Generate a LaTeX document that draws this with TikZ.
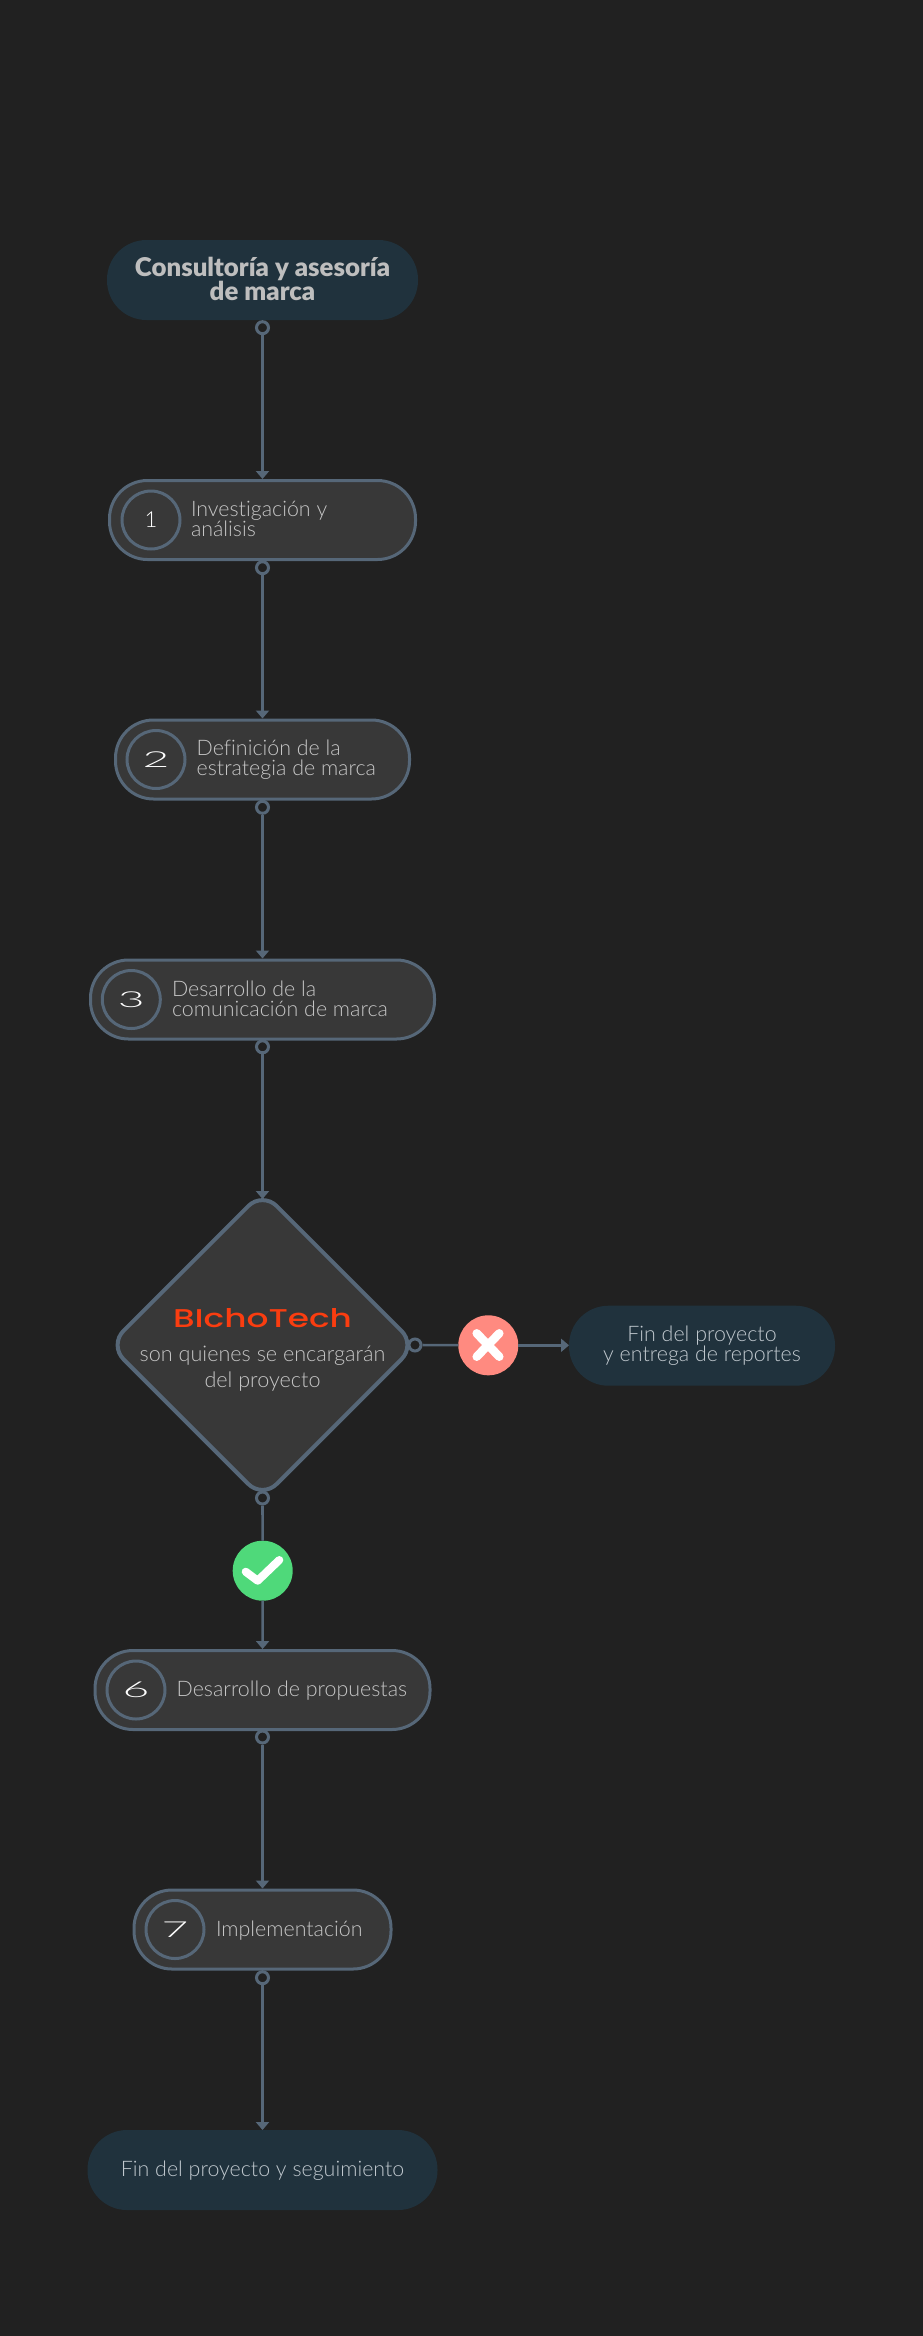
\documentclass[tikz,border=0pt]{standalone}
\usepackage{fontspec}
\usepackage{graphicx}
\usetikzlibrary{arrows.meta,shapes.geometric}
\setmainfont{Lato}
\newfontfamily\lightf[Ligatures=NoCommon]{Lato Light}
\newfontfamily\boldf[Ligatures=NoCommon]{Lato Black}
\newfontfamily\logof{Poppins Medium}
\definecolor{bgc}{HTML}{212121}
\definecolor{endc}{HTML}{20323D}
\definecolor{stepc}{HTML}{383838}
\definecolor{linec}{HTML}{566778}
\definecolor{textc}{HTML}{C6C6C6}
\definecolor{titlec}{HTML}{BEBEBE}
\definecolor{endtext}{HTML}{C0C8CE}
\definecolor{redc}{HTML}{FF8A80}
\definecolor{greenc}{HTML}{4FD97A}
\definecolor{logoc}{HTML}{FA3D10}
\tikzset{
  x=1pt,y=-1pt,
  startbox/.style={rectangle,rounded corners=39.5pt,fill=endc,inner sep=0pt,outer sep=0pt,minimum height=80pt},
  stepbox/.style={rectangle,rounded corners=38pt,fill=stepc,draw=linec,line width=3pt,minimum height=79pt,inner sep=0pt},
  numcirc/.style={circle,draw=linec,line width=3pt,minimum size=58pt,inner sep=0pt,text=white,font=\lightf\fontsize{22}{22}\selectfont},
  steptext/.style={text=textc,inner sep=0pt,outer sep=0pt,align=left,anchor=west,font=\lightf\fontsize{21.4}{20}\selectfont},
  dotn/.style={circle,draw=linec,fill=bgc,line width=3pt,minimum size=12pt,inner sep=0pt},
  conn/.style={draw=linec,line width=2.6pt},
  linkarrow/.style={conn,-{Triangle[length=8pt,width=13pt]}},
  badge/.style={circle,minimum size=60pt,inner sep=0pt,outer sep=0pt},
  tickmark/.style={draw=white,line cap=round,line width=8pt}
}
\newcommand{\wide}[1]{\scalebox{2.1}[1]{#1}}
\begin{document}
\begin{tikzpicture}
\useasboundingbox (0,0) rectangle (922,2336);
\fill[bgc] (-10,-10) rectangle (932,2346);

\node[startbox,minimum width=311pt] (start) at (262.5,280) {};
\node[text=titlec,inner sep=0pt,align=center,font=\boldf\fontsize{25.8}{23}\selectfont] (starttxt) at (262.5,279) {Consultoría y asesoría\\de marca};

\node[stepbox,minimum width=306pt] (s1) at (262.5,520) {};
\node[numcirc] (n1) at (151,520) {1};
\node[steptext] (t1) at (191,519) {Investigación y\\análisis};

\node[stepbox,minimum width=294pt] (s2) at (262.5,759.5) {};
\node[numcirc] (n2) at (156,759.5) {\wide{2}};
\node[steptext] (t2) at (196.7,759.7) {Definición de la\\estrategia de marca};

\node[stepbox,minimum width=344pt] (s3) at (262.5,999.5) {};
\node[numcirc] (n3) at (131.3,999.5) {\wide{3}};
\node[steptext] (t3) at (172,999) {Desarrollo de la\\comunicación de marca};

\node[diamond,fill=stepc,draw=linec,line width=4pt,minimum width=308pt,minimum height=308pt,aspect=1,inner sep=0pt,rounded corners=20pt] (d) at (262.5,1345) {};
\coordinate (dtop) at (262.5,1199);
\node[inner sep=0pt,text=logoc] (logo) at (262.5,1318.5) {\resizebox{179pt}{19pt}{\logof BIchoTech}};
\node[text=textc,inner sep=0pt,align=center,font=\lightf\fontsize{21.6}{26}\selectfont] (dtxt) at (262.5,1368.5) {son quienes se encargarán\\del proyecto};

\node[badge,fill=redc] (no) at (488.3,1345.3) {};
\node[startbox,minimum width=266pt] (e1) at (702,1345.7) {};
\node[text=endtext,inner sep=0pt,align=center,font=\lightf\fontsize{21.4}{20}\selectfont] (e1t) at (702,1346) {Fin del proyecto\\y entrega de reportes};

\node[badge,fill=greenc] (yes) at (262.7,1570.7) {};

\node[stepbox,minimum width=335pt] (s6) at (262.5,1690) {};
\node[numcirc] (n6) at (136,1690) {\wide{6}};
\node[steptext] (t6) at (176.7,1691) {Desarrollo de propuestas};

\node[stepbox,minimum width=257pt] (s7) at (262.5,1929.5) {};
\node[numcirc] (n7) at (175,1929.5) {\wide{7}};
\node[steptext] (t7) at (216,1930.5) {Implementación};

\node[startbox,minimum width=350pt] (e2) at (262.5,2170) {};
\node[text=endtext,inner sep=0pt,font=\lightf\fontsize{21.4}{20}\selectfont] (e2t) at (262.5,2170.5) {Fin del proyecto y seguimiento};

% output ports
\node[dotn] (p0) at (262.5,327.7) {};
\node[dotn] (p1) at (262.5,567.7) {};
\node[dotn] (p2) at (262.5,807.3) {};
\node[dotn] (p3) at (262.5,1046.8) {};
\node[dotn] (pd) at (262.5,1498) {};
\node[dotn] (pr) at (415,1345) {};
\node[dotn] (p6) at (262.5,1737) {};
\node[dotn] (p7) at (262.5,1977.7) {};

% connectors
\draw[linkarrow] (p0) -- (s1);
\draw[linkarrow] (p1) -- (s2);
\draw[linkarrow] (p2) -- (s3);
\draw[linkarrow] (p3) -- (dtop);
\draw[conn] (pr) -- (no);
\draw[linkarrow] (no) -- (no -| e1.west);
\draw[conn] (pd) -- (yes);
\draw[linkarrow] (yes) -- (s6);
\draw[linkarrow] (p6) -- (s7);
\draw[linkarrow] (p7) -- (e2);

% badge marks
\draw[tickmark,line width=8.5pt] (476.7,1333.3) -- (499.3,1356.7);
\draw[tickmark,line width=8.5pt] (499.3,1333.3) -- (476.7,1356.7);
\draw[tickmark,line join=round] (245.7,1571.7) -- (257.7,1580.7) -- (279.3,1560);
\end{tikzpicture}
\end{document}
